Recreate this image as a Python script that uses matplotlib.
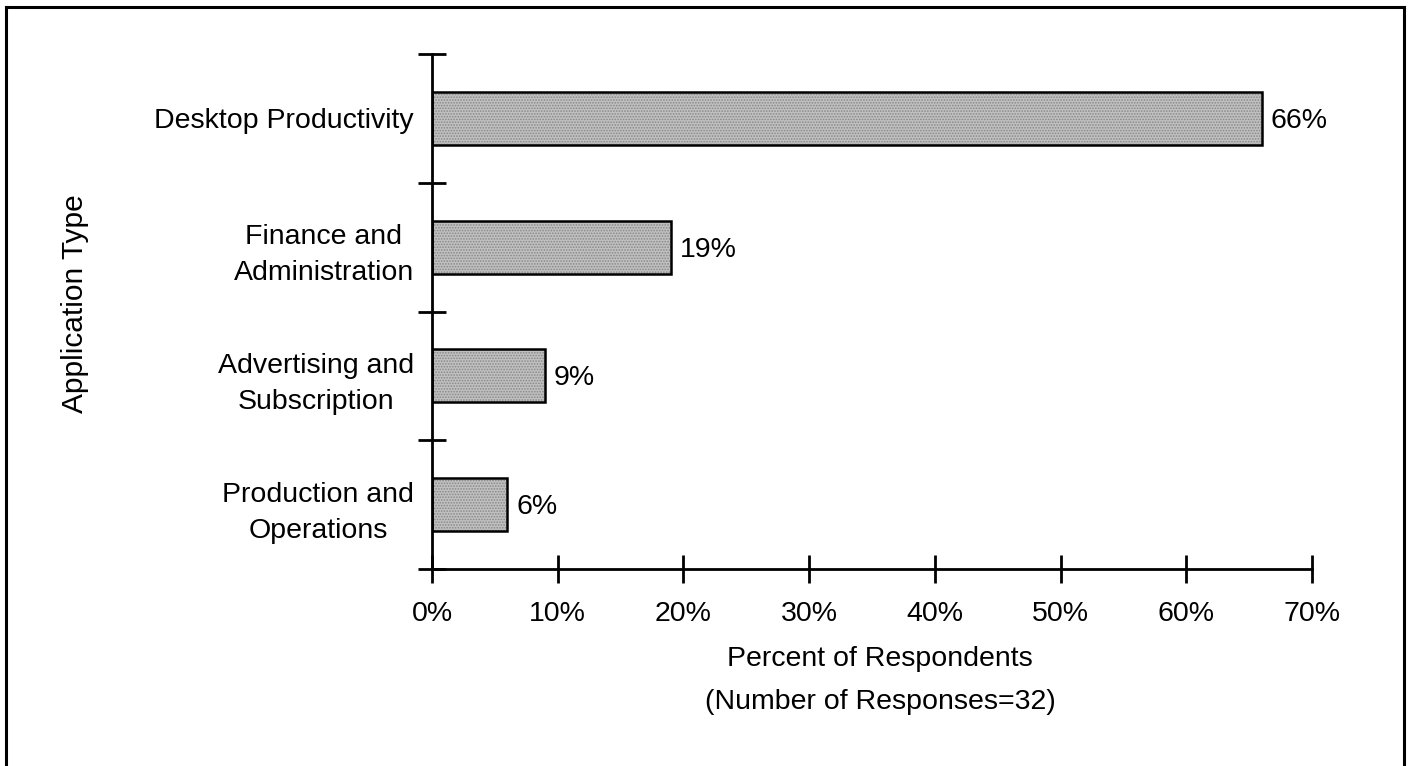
import matplotlib
matplotlib.use("Agg")
import matplotlib.pyplot as plt
from matplotlib.lines import Line2D
import numpy as np

plt.rcParams['font.family'] = ['Liberation Sans', 'DejaVu Sans']
plt.rcParams['hatch.linewidth'] = 0.8

categories = ["Desktop Productivity", "Finance and\nAdministration",
              "Advertising and\nSubscription", "Production and\nOperations"]
percents = [66, 19, 9, 6]
x_ticks = [0, 10, 20, 30, 40, 50, 60, 70]
x_tick_labels = [f"{t}%" for t in x_ticks]

FS = 20.5

fig = plt.figure(figsize=(14.1, 7.66), dpi=100)
fig.patch.set_facecolor("white")

# outer frame (left, top, right edges)
frame_kw = dict(color="black", lw=2.2, transform=fig.transFigure)
fig.add_artist(Line2D([6 / 1410, 6 / 1410], [0, 1 - 7 / 766], **frame_kw))
fig.add_artist(Line2D([6 / 1410, 1404 / 1410], [1 - 7 / 766, 1 - 7 / 766], **frame_kw))
fig.add_artist(Line2D([1404 / 1410, 1404 / 1410], [0, 1 - 7 / 766], **frame_kw))

ax = fig.add_axes([432 / 1410, 1 - 569 / 766, 880 / 1410, 515 / 766])
ax.set_facecolor("none")

ypos = np.arange(len(categories))
bar_h = 0.41
# textured fill, then the outline on top
ax.barh(ypos, percents, height=bar_h, color="#c0c0c0", edgecolor="#888888",
        hatch="......", linewidth=0, zorder=2)
ax.barh(ypos, percents, height=bar_h, fill=False, edgecolor="black",
        linewidth=1.8, zorder=3)

for y, v in zip(ypos, percents):
    ax.text(v + 0.7, y + 0.02, f"{v}%", va="center", ha="left", fontsize=FS)

ax.set_xlim(0, 70)
ax.set_ylim(len(categories) - 0.5, -0.5)

ax.set_xticks(x_ticks)
ax.set_xticklabels(x_tick_labels, fontsize=FS)
ax.set_yticks(np.arange(-0.5, len(categories), 1.0))
ax.set_yticklabels([])
ax.set_yticks(ypos, minor=True)
ax.set_yticklabels(categories, minor=True, fontsize=FS,
                   multialignment="center", linespacing=1.5)
ax.tick_params(axis="y", which="minor", length=0, pad=13)
ax.tick_params(axis="both", which="major", direction="inout", length=20,
               width=2, color="black")
ax.tick_params(axis="x", which="major", pad=13)

for side in ("top", "right"):
    ax.spines[side].set_visible(False)
for side in ("left", "bottom"):
    ax.spines[side].set_linewidth(2)
    ax.spines[side].set_color("black")

ax.set_xlabel("Percent of Respondents\n(Number of Responses=32)", fontsize=FS,
              linespacing=1.85, labelpad=14)
ax.xaxis.label.set_x(0.5 + 8 / 880)
ax.set_ylabel("Application Type", fontsize=21.5, labelpad=0)
ax.yaxis.set_label_coords(-343 / 880, 0.5 + 8 / 515)

fig.savefig("out.png", dpi=100)
